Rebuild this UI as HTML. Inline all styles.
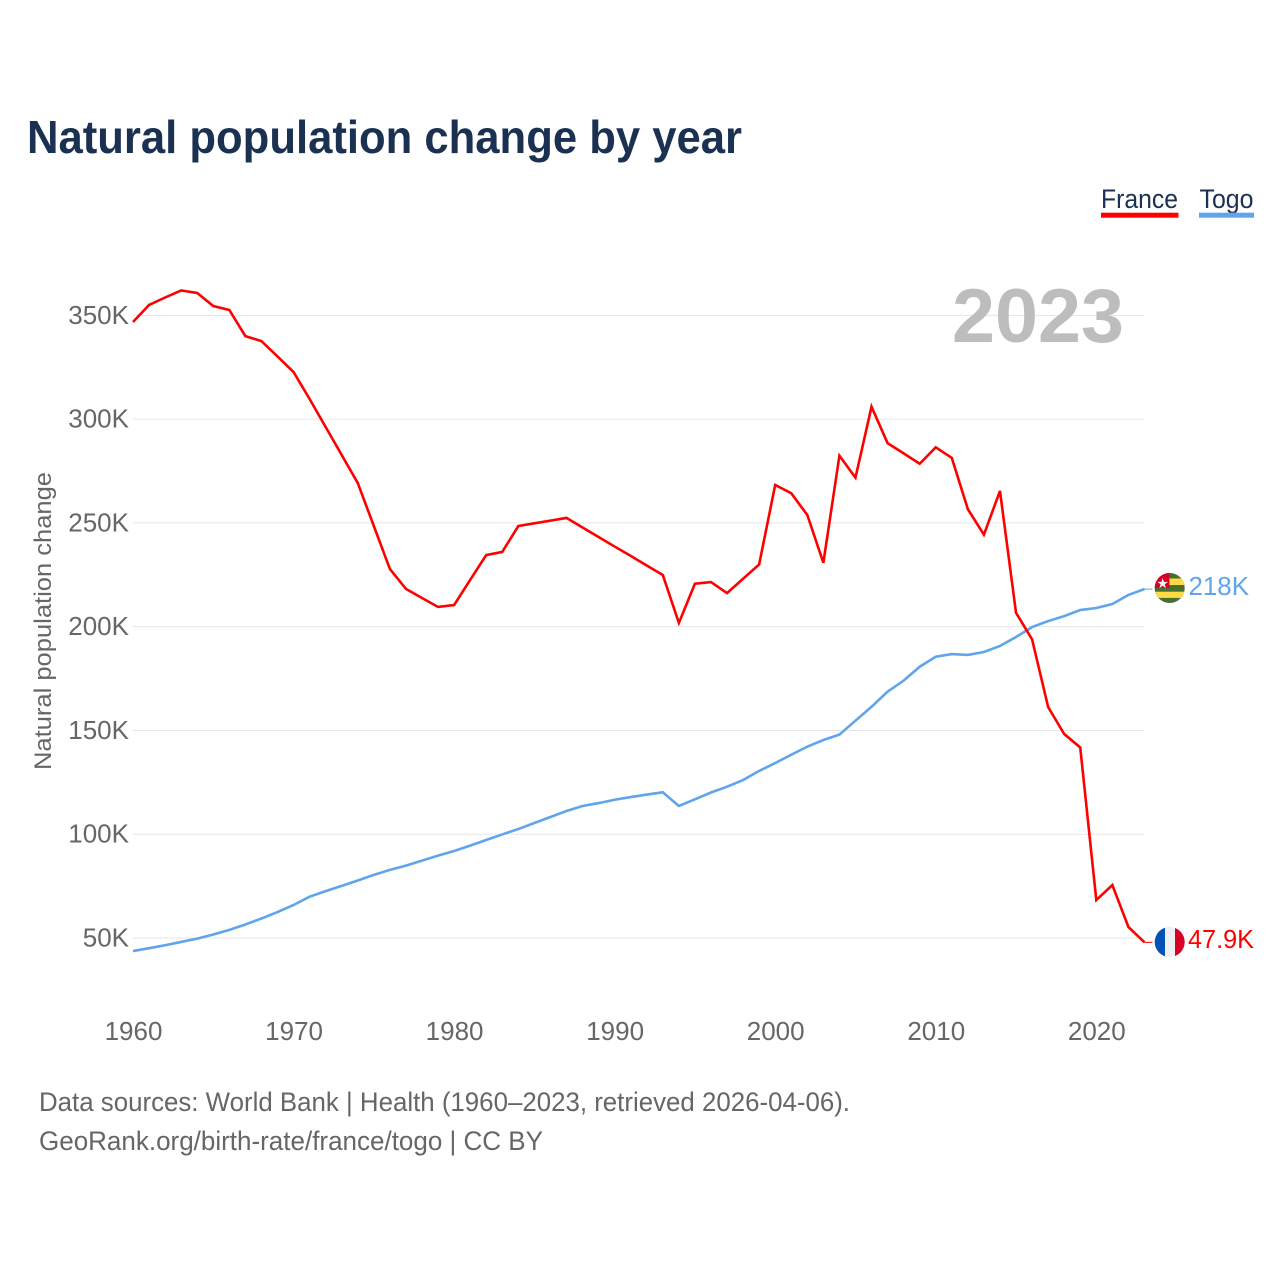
<!DOCTYPE html>
<html lang="en">
<head>
<meta charset="utf-8">
<title>Natural population change by year</title>
<style>
html,body{margin:0;padding:0;background:#fff;}
svg{display:block;font-family:"Liberation Sans",sans-serif;}
</style>
</head>
<body>
<svg id="chart" xmlns="http://www.w3.org/2000/svg" width="1280" height="1280" viewBox="0 0 1280 1280">
  <rect x="0" y="0" width="1280" height="1280" fill="#fff"/>
  <text x="27" y="153" font-size="46" font-weight="700" fill="#1a3152" textLength="715" lengthAdjust="spacingAndGlyphs">Natural population change by year</text>

  <g>
    <text x="1101" y="208" font-size="27" fill="#1a3152" textLength="77" lengthAdjust="spacingAndGlyphs">France</text>
    <rect x="1101" y="212.7" width="77.5" height="5" fill="#ff0000"/>
  </g>
  <g>
    <text x="1199.5" y="208" font-size="27" fill="#1a3152" textLength="54" lengthAdjust="spacingAndGlyphs">Togo</text>
    <rect x="1199" y="212.7" width="55" height="5" fill="#60a5ec"/>
  </g>

  <g id="grid"></g>
  <g id="yticks"></g>
  <g id="xticks"></g>

  <text x="952" y="342" font-size="76" font-weight="700" fill="#bdbdbd" textLength="172" lengthAdjust="spacingAndGlyphs">2023</text>

  <text transform="translate(51,770) rotate(-90)" x="0" y="0" font-size="24" fill="#666" textLength="298" lengthAdjust="spacingAndGlyphs">Natural population change</text>

  <g id="series"></g>

  <g>
    <defs>
      <clipPath id="clip-togo"><circle cx="1169.7" cy="588" r="15"/></clipPath>
      <clipPath id="clip-france"><circle cx="1169.7" cy="942" r="15"/></clipPath>
    </defs>
    <g clip-path="url(#clip-togo)">
      <rect x="1154" y="572" width="32" height="32" fill="#496e2d"/>
      <rect x="1154" y="578.5" width="32" height="6.5" fill="#ffda44"/>
      <rect x="1154" y="591.7" width="32" height="6.2" fill="#ffda44"/>
      <rect x="1154" y="572" width="15.4" height="16" fill="#d80027"/>
      <polygon points="1162.7,578.8 1164,582.7 1168,582.7 1164.8,585.1 1166,589 1162.7,586.6 1159.4,589 1160.6,585.1 1157.4,582.7 1161.4,582.7" fill="#f0f0f0" transform="translate(0,-0.8)"/>
    </g>
  </g>
  <g>
    <g clip-path="url(#clip-france)">
      <rect x="1154" y="926" width="11" height="32" fill="#0052b4"/>
      <rect x="1165" y="926" width="10" height="32" fill="#f0f0f0"/>
      <rect x="1175" y="926" width="11" height="32" fill="#d80027"/>
    </g>
  </g>

  <text x="1188.5" y="595" font-size="26" fill="#60a5ec" textLength="60.5" lengthAdjust="spacingAndGlyphs">218K</text>
  <text x="1188" y="948" font-size="26" fill="#ff0000" textLength="66" lengthAdjust="spacingAndGlyphs">47.9K</text>

  <text x="39" y="1111" font-size="27" fill="#666" textLength="811" lengthAdjust="spacingAndGlyphs">Data sources: World Bank | Health (1960–2023, retrieved 2026-04-06).</text>
  <text x="39" y="1150" font-size="27" fill="#666" textLength="504" lengthAdjust="spacingAndGlyphs">GeoRank.org/birth-rate/france/togo | CC BY</text>
</svg>
<script>
const years = [1960,1961,1962,1963,1964,1965,1966,1967,1968,1969,1970,1971,1972,1973,1974,1975,1976,1977,1978,1979,1980,1981,1982,1983,1984,1985,1986,1987,1988,1989,1990,1991,1992,1993,1994,1995,1996,1997,1998,1999,2000,2001,2002,2003,2004,2005,2006,2007,2008,2009,2010,2011,2012,2013,2014,2015,2016,2017,2018,2019,2020,2021,2022,2023];
const franceValues = [346.8,355,358.6,362,360.8,354.5,352.6,340,337.6,330.2,322.7,309.7,296.2,282.7,269.2,248.5,227.8,218.2,213.8,209.5,210.4,222.5,234.5,236,248.5,249.8,251.1,252.4,247.8,243.2,238.6,234.1,229.5,224.9,201.8,220.7,221.5,216.2,223.1,230,268.3,264.3,253.8,230.8,282.4,271.8,306,288.4,283.5,278.5,286.4,281.3,256.6,244.3,265.4,206.7,193.9,161.3,148.3,141.8,68.3,75.5,55.3,47.9];
const togoValues = [43.7,45.1,46.5,48.1,49.7,51.7,53.9,56.5,59.4,62.5,65.9,69.9,72.6,75.1,77.7,80.4,82.8,84.9,87.3,89.7,91.9,94.5,97.2,99.9,102.5,105.4,108.3,111.2,113.6,115,116.6,117.9,119.1,120.2,113.6,116.8,120.1,122.9,126.1,130.5,134.3,138.3,142.2,145.4,148,154.7,161.4,168.7,174,180.7,185.5,186.8,186.4,187.8,190.7,195,199.8,202.7,205.1,208,209,210.9,215.3,218.1];
const yTickValues = [50,100,150,200,250,300,350];
const yTickLabels = ["50K","100K","150K","200K","250K","300K","350K"];
const xTickValues = [1960,1970,1980,1990,2000,2010,2020];
const xTickLabels = ["1960","1970","1980","1990","2000","2010","2020"];

const NS = "http://www.w3.org/2000/svg";
const xScale = function (yr) { return 133 + (yr - 1960) * 16.055; };
const yScale = function (v) { return 938 - (v - 50) * 2.0755; };

const grid = document.getElementById("grid");
const yTicks = document.getElementById("yticks");
const xTicks = document.getElementById("xticks");
const seriesGroup = document.getElementById("series");

yTickValues.forEach(function (v, i) {
  const line = document.createElementNS(NS, "line");
  
  
  line.setAttribute("x1", xScale(1960));
  line.setAttribute("x2", xScale(2023));
  line.setAttribute("y1", yScale(v));
  line.setAttribute("y2", yScale(v));
  line.setAttribute("stroke", "#e6e6e6");
  line.setAttribute("stroke-width", "1");
  grid.appendChild(line);

  const label = document.createElementNS(NS, "text");
  
  
  label.setAttribute("x", 129);
  label.setAttribute("y", yScale(v) + 8.5);
  label.setAttribute("text-anchor", "end");
  label.setAttribute("font-size", "26");
  label.setAttribute("fill", "#666");
  label.textContent = yTickLabels[i];
  yTicks.appendChild(label);
});

xTickValues.forEach(function (yr, i) {
  const label = document.createElementNS(NS, "text");
  
  
  label.setAttribute("x", xScale(yr) + 0.5);
  label.setAttribute("y", 1040);
  label.setAttribute("text-anchor", "middle");
  label.setAttribute("font-size", "26");
  label.setAttribute("fill", "#666");
  label.textContent = xTickLabels[i];
  xTicks.appendChild(label);
});

function linePoints(values) {
  return values.map(function (v, i) {
    return xScale(years[i]).toFixed(2) + "," + yScale(v).toFixed(2);
  }).join(" ");
}

const togoLine = document.createElementNS(NS, "polyline");


togoLine.setAttribute("points", linePoints(togoValues));
togoLine.setAttribute("fill", "none");
togoLine.setAttribute("stroke", "#60a5ec");
togoLine.setAttribute("stroke-width", "2.6");
togoLine.setAttribute("stroke-linejoin", "miter");
seriesGroup.appendChild(togoLine);

const franceLine = document.createElementNS(NS, "polyline");


franceLine.setAttribute("points", linePoints(franceValues));
franceLine.setAttribute("fill", "none");
franceLine.setAttribute("stroke", "#ff0000");
franceLine.setAttribute("stroke-width", "2.6");
franceLine.setAttribute("stroke-linejoin", "miter");
seriesGroup.appendChild(franceLine);

const togoConnector = document.createElementNS(NS, "line");


togoConnector.setAttribute("x1", xScale(2023));
togoConnector.setAttribute("x2", xScale(2023) + 8);
togoConnector.setAttribute("y1", yScale(togoValues[togoValues.length - 1]));
togoConnector.setAttribute("y2", yScale(togoValues[togoValues.length - 1]));
togoConnector.setAttribute("stroke", "#60a5ec");
togoConnector.setAttribute("stroke-width", "1");
seriesGroup.appendChild(togoConnector);

const franceConnector = document.createElementNS(NS, "line");


franceConnector.setAttribute("x1", xScale(2023));
franceConnector.setAttribute("x2", xScale(2023) + 8);
franceConnector.setAttribute("y1", yScale(franceValues[franceValues.length - 1]));
franceConnector.setAttribute("y2", yScale(franceValues[franceValues.length - 1]));
franceConnector.setAttribute("stroke", "#ff0000");
franceConnector.setAttribute("stroke-width", "1");
seriesGroup.appendChild(franceConnector);
</script>
</body>
</html>
